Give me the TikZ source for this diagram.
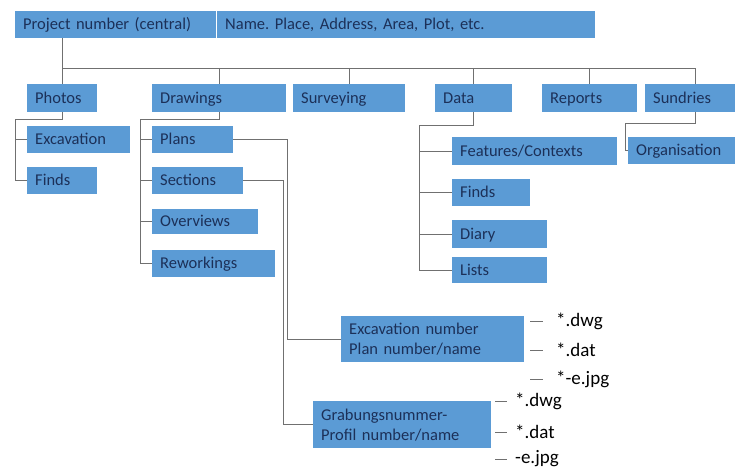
\documentclass[tikz,border=0pt]{standalone}
\usepackage{fontspec}
\setmainfont{Carlito}
\usepackage{tikz}

\definecolor{boxblue}{RGB}{91,155,213}
\definecolor{boxtext}{RGB}{28,48,88}
\definecolor{linegray}{RGB}{112,112,112}

\begin{document}
\frenchspacing
\begin{tikzpicture}[x=1pt,y=-1pt,
    box/.style={fill=boxblue, text=boxtext, anchor=north west, inner xsep=8pt, inner ysep=0pt,
        align=left, font=\fontsize{16.5}{20}\selectfont},
    cell/.style={box, text height=11.5pt, text depth=1.5pt},
    conn/.style={draw=linegray, line width=0.9pt},
    ftype/.style={anchor=west, inner sep=0pt, font=\fontsize{19}{20}\selectfont}]
            \useasboundingbox (0,0) rectangle (735,470);

            %top bar
            \node[cell, text width=185pt, minimum height=27pt] (proj) at (15,11) {Project number (central)};
            \node[cell, text width=362pt, minimum height=27pt] (name) at (217,11) {Name. Place, Address, Area, Plot, etc.};

            %first level
            \node[cell, text width=54pt, minimum height=28pt] (photos) at (27,84) {Photos};
            \node[cell, text width=118pt, minimum height=28pt] (drawings) at (152,84) {Drawings};
            \node[cell, text width=96pt, minimum height=28pt] (surveying) at (293,84) {Surveying};
            \node[cell, text width=61pt, minimum height=28pt] (data) at (435,84) {Data};
            \node[cell, text width=79pt, minimum height=28pt] (reports) at (542,84) {Reports};
            \node[cell, text width=74pt, minimum height=28pt] (sundries) at (645,84) {Sundries};

            %second level
            \node[cell, text width=87pt, minimum height=27pt] (excavation) at (27,126) {Excavation};
            \node[cell, text width=54pt, minimum height=27pt] (findsA) at (27,167) {Finds};
            \node[cell, text width=65pt, minimum height=27pt] (plans) at (152,126) {Plans};
            \node[cell, text width=75pt, minimum height=27pt] (sections) at (152,167) {Sections};
            \node[cell, text width=90pt, minimum height=25pt] (overviews) at (152,209) {Overviews};
            \node[cell, text width=107pt, minimum height=27pt] (reworkings) at (152,250) {Reworkings};
            \node[cell, text width=149pt, minimum height=28pt] (features) at (452,137) {Features/Contexts};
            \node[cell, text width=62pt, minimum height=27pt] (findsB) at (452,179) {Finds};
            \node[cell, text width=79pt, minimum height=28pt] (diary) at (452,220) {Diary};
            \node[cell, text width=79pt, minimum height=26pt] (lists) at (452,257) {Lists};
            \node[cell, text width=91pt, minimum height=27pt] (organisation) at (628,137) {Organisation};

            %file boxes
            \node[box, text width=167pt, minimum height=46pt] (plannum) at (341,316) {Excavation number\\Plan number/name};
            \node[box, text width=162pt, minimum height=47pt] (profnum) at (313,401) {Grabungsnummer-\\Profil number/name};

            %file types
            \node[ftype] (pdwg) at (556,321) {*.dwg};
            \node[ftype] (pdat) at (556,350) {*.dat};
            \node[ftype] (pjpg) at (556,379) {*-e.jpg};
            \node[ftype] (sdwg) at (515,401) {*.dwg};
            \node[ftype] (sdat) at (515,432) {*.dat};
            \node[ftype] (sjpg) at (515,459) {-e.jpg};

            \coordinate (bus) at (695,68);
            \coordinate (pv) at (15,119);
            \coordinate (dv) at (140,119);
            \coordinate (av) at (419,125);
            \coordinate (sv) at (625,123);
            \coordinate (pr) at (287,0);
            \coordinate (sr) at (283,0);

            %main tree
            \draw[conn] (proj.south -| photos.north) -- (photos.north);
            \draw[conn] (photos.north |- bus) -- (bus) -- (bus |- sundries.north);
            \foreach \n in {drawings,surveying,data,reports}
                \draw[conn] (\n.north |- bus) -- (\n.north);

            %branches
            \draw[conn] (photos.south) -- (photos.south |- pv) -- (pv) |- (findsA.west);
            \draw[conn] (pv |- excavation.west) -- (excavation.west);
            \draw[conn] (drawings.south) -- (drawings.south |- dv) -- (dv) |- (reworkings.west);
            \foreach \n in {plans,sections,overviews}
                \draw[conn] (dv |- \n.west) -- (\n.west);
            \draw[conn] (data.south) -- (data.south |- av) -- (av) |- (lists.west);
            \foreach \n in {features,findsB,diary}
                \draw[conn] (av |- \n.west) -- (\n.west);
            \draw[conn] (bus |- sundries.south) -- (bus |- sv) -- (sv) |- (organisation.west);
            \draw[conn] (plans.east) -- (plans.east -| pr) |- (plannum.west);
            \draw[conn] (sections.east) -- (sections.east -| sr) |- (profnum.west);

            %dashes
            \foreach \n in {pdwg,pdat,pjpg}
                \draw[conn] ([xshift=-26pt]\n.west) -- ([xshift=-13pt]\n.west);
            \foreach \n in {sdwg,sdat,sjpg}
                \draw[conn] ([xshift=-20pt]\n.west) -- ([xshift=-8pt]\n.west);
\end{tikzpicture}
\end{document}
